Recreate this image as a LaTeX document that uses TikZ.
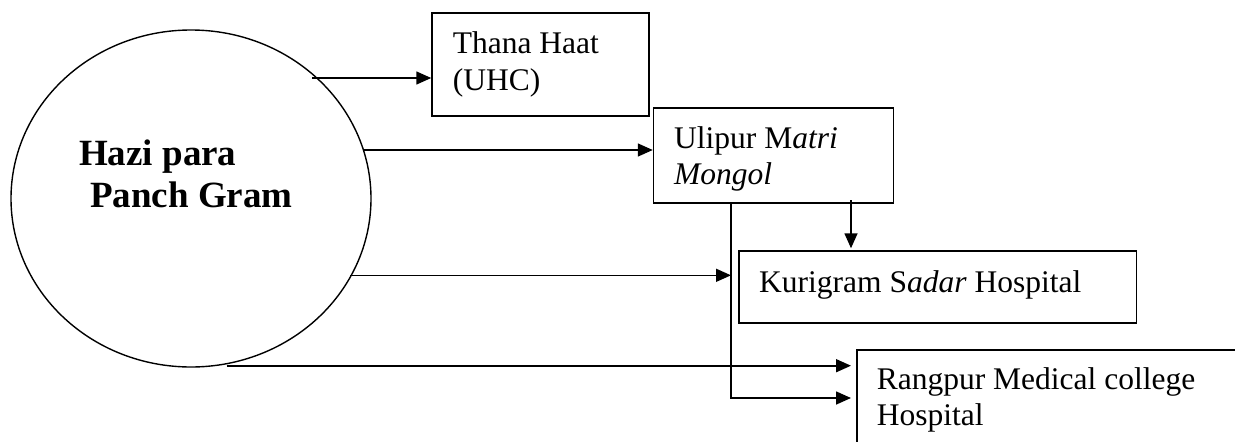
\documentclass[tikz,border=0pt]{standalone}
\usepackage{fontspec}
\setmainfont{Liberation Serif}
\usetikzlibrary{shapes.geometric,arrows.meta}
\begin{document}
\begin{tikzpicture}[x=1pt,y=-1pt,
  boxnode/.style={draw, line width=1.5pt, inner sep=0pt},
  txt/.style={anchor=base west, inner sep=0pt, font=\fontsize{31.5}{36}\selectfont},
  bigtxt/.style={anchor=base west, inner sep=0pt, font=\fontsize{37}{42}\selectfont\bfseries},
  arr/.style={line width=1.6pt, -{Triangle[length=15pt,width=13pt]}},
  plain/.style={line width=1.6pt}]
\useasboundingbox (0,0) rectangle (1235,442);
\clip (0,0) rectangle (1235,442);
\fill[white] (0,0) rectangle (1235,442);

% ellipse
\node[draw, ellipse, line width=1.4pt, inner sep=0pt, minimum width=360pt, minimum height=337pt] (hazi) at (191,198.5) {};
\node[bigtxt] (hazi1) at (79,165) {Hazi para};
\node[bigtxt] (hazi2) at (90,207) {Panch Gram};

% boxes
\node[boxnode, minimum width=217pt, minimum height=103pt] (thana) at (540.5,64.5) {};
\node[txt] (thana1) at (452.7,53.3) {Thana Haat};
\node[txt] (thana2) at (452.7,90.7) {(UHC)};

\node[boxnode, minimum width=240pt, minimum height=95pt] (ulipur) at (773.5,155.5) {};
\node[txt] (ulipur1) at (674,148) {Ulipur M\textit{atri}};
\node[txt] (ulipur2) at (674,184) {\textit{Mongol}};

\node[boxnode, minimum width=397.6pt, minimum height=72pt] (kuri) at (937.8,287) {};
\node[txt] (kuri1) at (759,292) {Kurigram S\textit{adar} Hospital};

\node[boxnode, minimum width=450pt, minimum height=160pt, anchor=north west] (rang) at (856,349) {};
\node[txt] (rang1) at (876.6,389) {Rangpur Medical college};
\node[txt] (rang2) at (876.6,425) {Hospital};

% start points on the ellipse
\coordinate (s1) at (312,78);
\coordinate (s2) at (364,150);
\coordinate (s3) at (350,275.3);
\coordinate (s4) at (226.6,365.7);
\coordinate (vtop) at (731,203);
\coordinate (v3) at (731,275.3);
\coordinate (vbot) at (731,398);
\coordinate (dtop) at (851,200);

% connectors
\draw[arr] (s1) -- (thana.west |- s1);
\draw[arr] (s2) -- (ulipur.west |- s2);
\draw[arr] (s3) -- (v3);
\draw[arr, shorten >=5pt] (s4) -- (rang.west |- s4);
\draw[arr, shorten >=5pt] (ulipur.south -| vtop) -- (vbot) -- (rang.west |- vbot);
\draw[arr, shorten >=2pt] (dtop) -- (kuri.north -| dtop);
\end{tikzpicture}
\end{document}
